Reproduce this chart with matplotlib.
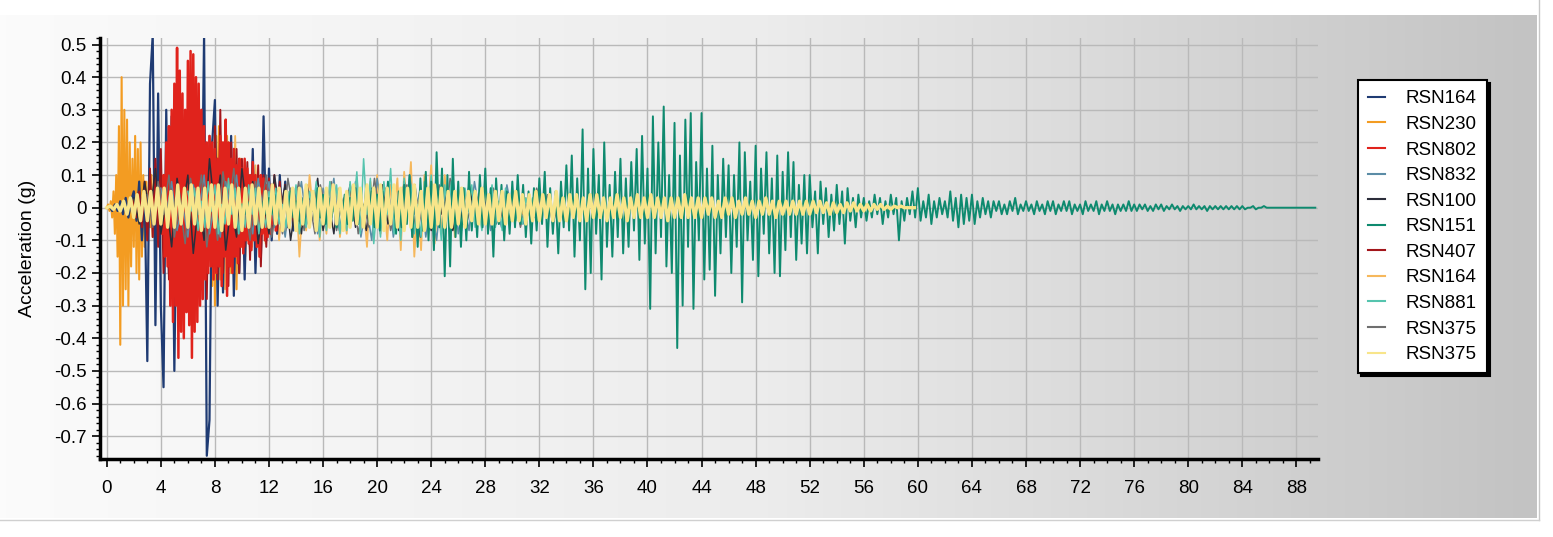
import numpy as np
import matplotlib.pyplot as plt
from matplotlib.colors import LinearSegmentedColormap
from matplotlib.lines import Line2D
from matplotlib.ticker import MultipleLocator, FuncFormatter

plt.rcParams['font.family'] = ['Liberation Sans', 'DejaVu Sans']

# legend order
names = ['RSN164', 'RSN230', 'RSN802', 'RSN832', 'RSN100', 'RSN151',
         'RSN407', 'RSN164', 'RSN881', 'RSN375', 'RSN375']
colors = ['#1f3b73', '#f39c22', '#e0231c', '#5b8ca6', '#2b2d3a', '#0e8a6f',
          '#a3161b', '#f6b85c', '#55c4ae', '#6f6f6f', '#f8e58a']

# each record: start time (s), time step (s), acceleration values (g)
rsn164_t0, rsn164_dt = 0.0, 0.2
rsn164 = [0, 0.005, -0.01, 0.01, -0.01, 0.02, -0.02, 0.03, -0.03, 0.02,
          0.05, -0.04, 0.08, -0.1, 0.06, -0.47, 0.38, 0.53, -0.36, 0.35,
          -0.3, -0.55, 0.3, -0.2, 0.28, -0.5, 0.12, -0.3, 0.22, -0.1,
          0.2, -0.28, 0.1, -0.22, 0.25, -0.15, 0.53, -0.76, -0.65, 0.2,
          0.33, -0.3, 0.12, -0.26, 0.25, -0.1, 0.22, -0.27, 0.08, -0.2,
          0.14, -0.22, 0.1, -0.12, 0.18, -0.2, 0.07, -0.15, 0.28, -0.1,
          0.12, -0.1, 0.05, -0.08, 0.1, -0.05, 0.08, -0.06, 0.05, -0.07,
          0.06, -0.05, 0.03, -0.06, 0.05, -0.04, 0.03, -0.04, 0.02, -0.02,
          0.03, -0.04, 0.02, -0.03, 0.04, -0.03, 0.02, -0.02, 0.03, -0.02,
          0.02, -0.03, 0.02, -0.02, 0.01, -0.02, 0.02, -0.01, 0.01, 0]

rsn230_t0, rsn230_dt = 0.0, 0.1
rsn230 = [0, 0.01, -0.01, 0.02, -0.03, 0.05, -0.08, 0.1, -0.15, 0.25,
          -0.42, 0.4, -0.3, 0.3, -0.25, 0.27, -0.3, 0.2, -0.18, 0.15,
          -0.12, 0.22, -0.2, 0.18, -0.22, 0.2, -0.15, 0.1, -0.12, 0.08,
          -0.1, 0.08, -0.06, 0.1, -0.09, 0.07, -0.1, 0.06, -0.08, 0.05,
          -0.07, 0.09, -0.06, 0.08, -0.1, 0.07, -0.05, 0.06, -0.09, 0.08,
          -0.06, 0.1, -0.08, 0.07, -0.11, 0.09, -0.07, 0.06, -0.1, 0.12,
          -0.09, 0.1, -0.12, 0.08, -0.14, 0.1, -0.08, 0.12, -0.15, 0.1,
          -0.12, 0.15, -0.18, 0.12, -0.2, 0.18, -0.15, 0.2, -0.24, 0.16,
          -0.3, 0.22, -0.18, 0.25, -0.22, 0.2, -0.24, 0.18, -0.2, 0.22,
          -0.18, 0.15, -0.2, 0.12, -0.16, 0.14, -0.25, 0.1, -0.12, 0.15,
          -0.12, 0.1, -0.13, 0.08, -0.1, 0.09, -0.12, 0.07, -0.09, 0.06,
          -0.08, 0.07, -0.06, 0.08, -0.05, 0.06, -0.07, 0.05, -0.04, 0.03]

rsn802_t0, rsn802_dt = 4.0, 0.1
rsn802 = [0.05, -0.08, 0.1, -0.15, 0.2, -0.18, 0.25, -0.3, 0.3, -0.35,
          0.38, -0.3, 0.49, -0.46, 0.42, -0.38, 0.35, -0.4, 0.3, -0.32,
          0.45, -0.36, 0.48, -0.46, 0.47, -0.38, 0.4, -0.35, 0.38, -0.3,
          0.3, -0.28, 0.25, -0.22, 0.2, -0.2, 0.22, -0.18, 0.2, -0.22,
          0.18, -0.2, 0.15, -0.18, 0.22, -0.24, 0.2, -0.15, 0.27, -0.27,
          0.2, -0.18, 0.15, -0.2, 0.18, -0.15, 0.13, -0.17, 0.15, -0.12,
          0.12, -0.14, 0.15, -0.1, 0.12, -0.11, 0.1, -0.13, 0.14, -0.1,
          0.1, -0.12, 0.08, -0.15, 0.1, -0.08, 0.09, -0.1, 0.07, -0.09,
          0.06, -0.08, 0.07, -0.05, 0.06, -0.07, 0.05, -0.04, 0.04, -0.03]

rsn832_t0, rsn832_dt = 4.0, 0.4
rsn832 = [0.06, -0.02, 0.08, -0.07, 0.01, -0.09, 0.07, -0.02, 0.1, -0.08,
          0.02, -0.09, 0.08, -0.01, 0.1, -0.07, 0.02, -0.08, 0.09, -0.02,
          0.08, -0.06, 0.01, -0.09, 0.06, -0.02, 0.08, -0.05, 0.02, -0.08,
          0.06, -0.01, 0.09, -0.07, 0.02, -0.06, 0.08, -0.09, 0.01, -0.1,
          0.09, -0.02, 0.07, -0.09, 0.01, -0.07, 0.1, -0.02, 0.06, -0.09,
          0.02, -0.1, 0.07, -0.01, 0.09, -0.08, 0.02, -0.07, 0.08, -0.02,
          0.06, -0.07, 0.01, -0.06, 0.07, -0.02, 0.04, -0.05, 0.01, -0.03]

rsn100_t0, rsn100_dt = 2.0, 0.4
rsn100 = [0.03, -0.05, 0.08, -0.02, 0.12, -0.08, 0.02, -0.12, 0.09, -0.01,
          0.1, -0.14, 0.02, -0.1, 0.15, -0.02, 0.1, -0.13, 0.01, -0.09,
          0.12, -0.02, 0.08, -0.11, 0.02, -0.08, 0.1, -0.01, 0.07, -0.1,
          0.02, -0.08, 0.07, -0.01, 0.09, -0.07, 0.02, -0.08, 0.06, -0.02,
          0.07, -0.06, 0.01, -0.07, 0.06, -0.02, 0.07, -0.05, 0.01, -0.07,
          0.08, -0.02, 0.07, -0.09, 0.01, -0.07, 0.08, -0.02, 0.05, -0.07,
          0.01, -0.05, 0.07, -0.02, 0.05, -0.04, 0.01, -0.05, 0.03, -0.02]

rsn151_t0, rsn151_dt = 10.0, 0.2
rsn151 = [0.01, -0.02, 0.02, -0.01, 0.03, -0.02, 0.01, -0.03, 0.02, -0.02,
          0.03, -0.02, 0.04, -0.03, 0.02, -0.04, 0.03, -0.02, 0.05, -0.03,
          0.02, -0.04, 0.03, -0.05, 0.04, -0.02, 0.03, -0.04, 0.06, -0.03,
          0.04, -0.05, 0.03, -0.04, 0.02, -0.06, 0.05, -0.03, 0.04, -0.05,
          0.03, -0.04, 0.06, -0.05, 0.04, -0.03, 0.07, -0.04, 0.05, -0.06,
          0.04, -0.07, 0.05, -0.04, 0.08, -0.05, 0.06, -0.08, 0.05, -0.06,
          0.07, -0.05, 0.1, -0.09, 0.06, -0.12, 0.09, -0.07, 0.11, -0.1,
          0.08, -0.13, 0.17, -0.06, 0.12, -0.21, 0.1, -0.18, 0.15, -0.09,
          0.08, -0.12, 0.06, -0.1, 0.11, -0.07, 0.05, -0.09, 0.1, -0.06,
          0.12, -0.08, 0.06, -0.15, 0.09, -0.05, 0.07, -0.1, 0.05, -0.08,
          0.08, -0.06, 0.1, -0.05, 0.07, -0.09, 0.05, -0.11, 0.06, -0.07,
          0.09, -0.05, 0.11, -0.12, 0.06, -0.08, 0.05, -0.14, 0.08, -0.06,
          0.13, -0.07, 0.16, -0.15, 0.09, -0.1, 0.24, -0.25, 0.12, -0.2,
          0.18, -0.08, 0.1, -0.22, 0.2, -0.12, 0.07, -0.15, 0.11, -0.09,
          0.15, -0.14, 0.09, -0.12, 0.14, -0.07, 0.18, -0.16, 0.22, -0.11,
          0.12, -0.31, 0.28, -0.14, 0.2, -0.09, 0.31, -0.18, 0.1, -0.2,
          0.26, -0.43, 0.16, -0.3, 0.27, -0.12, 0.29, -0.31, 0.14, -0.1,
          0.29, -0.22, 0.12, -0.19, 0.19, -0.27, 0.1, -0.14, 0.15, -0.09,
          0.13, -0.2, 0.1, -0.12, 0.2, -0.29, 0.17, -0.1, 0.08, -0.16,
          0.19, -0.21, 0.12, -0.08, 0.17, -0.14, 0.09, -0.2, 0.16, -0.21,
          0.11, -0.13, 0.17, -0.09, 0.14, -0.16, 0.07, -0.11, 0.1, -0.14,
          0.1, -0.06, 0.05, -0.14, 0.08, -0.05, 0.06, -0.09, 0.04, -0.07,
          0.07, -0.05, 0.05, -0.11, 0.06, -0.04, 0.03, -0.06, 0.04, -0.03,
          0.03, -0.04, 0.02, -0.03, 0.04, -0.02, 0.03, -0.05, 0.02, -0.03,
          0.04, -0.02, 0.03, -0.1, 0.02, -0.04, 0.03, -0.02, 0.05, -0.03,
          0.06, -0.04, 0.02, -0.03, 0.04, -0.05, 0.02, -0.03, 0.03, -0.02,
          0.02, -0.03, 0.05, -0.04, 0.03, -0.06, 0.04, -0.05, 0.03, -0.04,
          0.04, -0.05, 0.02, -0.03, 0.03, -0.02, 0.02, -0.03, 0.02, -0.01,
          0.02, -0.02, 0.01, -0.02, 0.02, -0.01, 0.03, -0.02, 0.01, -0.01,
          0.02, -0.01, 0.01, -0.02, 0.02, -0.01, 0.01, -0.02, 0.02, -0.01,
          0.02, -0.02, 0.01, -0.01, 0.02, -0.01, 0.02, -0.02, 0.01, -0.01,
          0.01, -0.02, 0.02, -0.01, 0.01, -0.01, 0.02, -0.02, 0.01, -0.01,
          0.02, -0.01, 0.01, -0.02, 0.01, -0.01, 0.01, -0.01, 0.02, -0.01,
          0.01, -0.01, 0.01, -0.005, 0.01, -0.01, 0.005, -0.01, 0.01, -0.005,
          0.01, -0.01, 0.005, -0.005, 0.01, -0.005, 0.005, -0.01, 0.005, -0.005,
          0.005, -0.005, 0.01, -0.005, 0.005, -0.005, 0.005, -0.01, 0.005, -0.005,
          0.005, -0.005, 0.005, -0.005, 0.005, -0.005, 0.005, -0.005, 0.005, -0.005,
          0.005, -0.005, 0, 0, 0.005, -0.005, 0, 0, 0.005, 0,
          0, 0, 0, 0, 0, 0, 0, 0, 0, 0,
          0, 0, 0, 0, 0, 0, 0, 0]

rsn407_t0, rsn407_dt = 2.0, 0.2
rsn407 = [0.02, -0.03, 0.05, -0.06, 0.08, -0.1, 0.12, -0.09, 0.15, -0.12,
          0.18, -0.2, 0.15, -0.22, 0.2, -0.18, 0.25, -0.2, 0.22, -0.25,
          0.2, -0.22, 0.24, -0.2, 0.18, -0.25, 0.2, -0.28, 0.22, -0.18,
          0.25, -0.22, 0.3, -0.2, 0.18, -0.24, 0.2, -0.15, 0.18, -0.2,
          0.15, -0.12, 0.14, -0.16, 0.12, -0.1, 0.13, -0.18, 0.1, -0.12,
          0.09, -0.08, 0.1, -0.07, 0.08, -0.06, 0.07, -0.05, 0.05, -0.04]

rsn164b_t0, rsn164b_dt = 8.0, 0.25
rsn164b = [0.15, -0.2, 0.18, -0.25, 0.2, -0.16, 0.22, -0.18,
           0.12, -0.15, 0.1, -0.12, 0.13, -0.1, 0.08, -0.11,
           0.07, -0.02, 0.06, -0.1, 0.02, -0.07, 0.05, -0.01,
           0.06, -0.15, 0.02, -0.07, 0.1, -0.01, 0.06, -0.1,
           0.02, -0.08, 0.07, -0.01, 0.06, -0.09, 0.01, -0.08,
           0.07, -0.02, 0.09, -0.07, 0.01, -0.12, 0.08, -0.02,
           0.1, -0.08, 0.02, -0.1, 0.07, -0.01, 0.09, -0.13,
           0.11, -0.02, 0.14, -0.15, 0.02, -0.13, 0.1, -0.01,
           0.13, -0.11, 0.02, -0.08, 0.1, -0.01, 0.08, -0.09,
           0.02, -0.06, 0.05, -0.01, 0.06, -0.05, 0.01, -0.06,
           0.05, -0.01, 0.06, -0.05, 0.01, -0.03, 0.05, -0.01,
           0.03, -0.04, 0.01, -0.02, 0.03, -0.01, 0.02, -0.02]

rsn881_t0, rsn881_dt = 6.0, 0.25
rsn881 = [0.05, -0.01, 0.06, -0.07, 0.02, -0.06, 0.08, -0.01,
          0.07, -0.08, 0.01, -0.05, 0.09, -0.02, 0.06, -0.08,
          0.01, -0.06, 0.07, -0.02, 0.06, -0.08, 0.01, -0.06,
          0.05, -0.02, 0.06, -0.05, 0.01, -0.06, 0.05, -0.02,
          0.07, -0.08, 0.02, -0.06, 0.05, -0.01, 0.08, -0.09,
          0.02, -0.07, 0.08, -0.01, 0.07, -0.08, 0.02, -0.07,
          0.08, -0.01, 0.11, -0.08, 0.15, -0.02, 0.09, -0.11,
          0.01, -0.09, 0.08, -0.02, 0.12, -0.08, 0.01, -0.1,
          0.09, -0.02, 0.07, -0.08, 0.01, -0.09, 0.08, -0.02,
          0.1, -0.08, 0.02, -0.1, 0.07, -0.01, 0.08, -0.06,
          0.02, -0.07, 0.06, -0.01, 0.07, -0.06, 0.02, -0.07,
          0.06, -0.01, 0.07, -0.06, 0.02, -0.07, 0.06, -0.01,
          0.05, -0.04, 0.01, -0.05, 0.03, -0.01, 0.03, -0.02]

rsn375_t0, rsn375_dt = 3.0, 0.4
rsn375 = [0.04, -0.06, 0.08, -0.02, 0.1, -0.09, 0.01, -0.11, 0.09, -0.02,
          0.1, -0.12, 0.02, -0.1, 0.11, -0.01, 0.12, -0.08, 0.02, -0.1,
          0.08, -0.01, 0.1, -0.09, 0.02, -0.08, 0.09, -0.01, 0.08, -0.07,
          0.02, -0.08, 0.07, -0.01, 0.08, -0.07, 0.02, -0.05, 0.07, -0.08,
          0.01, -0.06, 0.09, -0.02, 0.06, -0.07, 0.01, -0.06, 0.07, -0.09,
          0.02, -0.07, 0.06, -0.01, 0.07, -0.06, 0.09, -0.02, 0.06, -0.05,
          0.01, -0.06, 0.05, -0.02, 0.06, -0.05, 0.01, -0.04, 0.05, -0.06,
          0.01, -0.04, 0.06, -0.01, 0.04, -0.05, 0.01, -0.04, 0.02, -0.02]

rsn375b_t0, rsn375b_dt = 0.0, 0.25
rsn375b = [0, 0.005, -0.005, 0.01, -0.01, 0.02, -0.02, 0.03,
           -0.03, 0.04, -0.04, 0.05, -0.04, 0.05, -0.05, 0.06,
           -0.05, 0.06, -0.06, 0.05, -0.06, 0.07, -0.05, 0.06,
           -0.06, 0.07, -0.05, 0.06, -0.07, 0.06, -0.06, 0.07,
           -0.06, 0.07, -0.07, 0.06, -0.05, 0.07, -0.06, 0.06,
           -0.07, 0.06, -0.06, 0.07, -0.05, 0.06, -0.06, 0.05,
           -0.06, 0.07, -0.05, 0.06, -0.07, 0.05, -0.06, 0.06,
           -0.07, 0.06, -0.05, 0.07, -0.06, 0.05, -0.07, 0.06,
           -0.05, 0.06, -0.06, 0.07, -0.05, 0.06, -0.07, 0.05,
           -0.06, 0.07, -0.05, 0.06, -0.06, 0.07, -0.05, 0.06,
           -0.06, 0.07, -0.07, 0.06, -0.05, 0.07, -0.06, 0.06,
           -0.07, 0.06, -0.06, 0.07, -0.06, 0.05, -0.07, 0.06,
           -0.06, 0.07, -0.05, 0.06, -0.06, 0.05, -0.06, 0.05,
           -0.05, 0.06, -0.06, 0.05, -0.04, 0.05, -0.05, 0.06,
           -0.05, 0.04, -0.05, 0.05, -0.04, 0.05, -0.05, 0.04,
           -0.04, 0.05, -0.04, 0.04, -0.05, 0.04, -0.04, 0.05,
           -0.04, 0.04, -0.03, 0.04, -0.04, 0.05, -0.04, 0.03,
           -0.04, 0.04, -0.03, 0.04, -0.04, 0.03, -0.04, 0.04,
           -0.03, 0.04, -0.03, 0.03, -0.04, 0.03, -0.03, 0.04,
           -0.03, 0.03, -0.04, 0.03, -0.03, 0.04, -0.03, 0.03,
           -0.03, 0.04, -0.03, 0.03, -0.03, 0.03, -0.04, 0.03,
           -0.03, 0.03, -0.03, 0.04, -0.03, 0.03, -0.03, 0.03,
           -0.03, 0.03, -0.02, 0.03, -0.03, 0.02, -0.03, 0.03,
           -0.02, 0.03, -0.03, 0.02, -0.02, 0.03, -0.02, 0.02,
           -0.03, 0.02, -0.02, 0.03, -0.02, 0.02, -0.03, 0.02,
           -0.02, 0.02, -0.02, 0.02, -0.02, 0.02, -0.02, 0.02,
           -0.02, 0.02, -0.015, 0.02, -0.015, 0.015, -0.02, 0.015,
           -0.015, 0.01, -0.015, 0.015, -0.01, 0.015, -0.01, 0.01,
           -0.01, 0.01, -0.01, 0.01, -0.005, 0.01, -0.005, 0.005,
           -0.005, 0.005, 0, 0.005, 0, 0, 0, 0]

records = [(rsn164_t0, rsn164_dt, rsn164), (rsn230_t0, rsn230_dt, rsn230),
           (rsn802_t0, rsn802_dt, rsn802), (rsn832_t0, rsn832_dt, rsn832),
           (rsn100_t0, rsn100_dt, rsn100), (rsn151_t0, rsn151_dt, rsn151),
           (rsn407_t0, rsn407_dt, rsn407), (rsn164b_t0, rsn164b_dt, rsn164b),
           (rsn881_t0, rsn881_dt, rsn881), (rsn375_t0, rsn375_dt, rsn375),
           (rsn375b_t0, rsn375b_dt, rsn375b)]

# order in which the records are painted (later = on top)
draw_order = [1, 7, 0, 6, 2, 3, 4, 9, 8, 5, 10]
widths = [1.6, 1.5, 1.8, 1.1, 1.1, 1.4, 1.4, 1.3, 1.1, 1.1, 2.4]

fig = plt.figure(figsize=(15.53, 5.37), dpi=100)
fig.patch.set_facecolor('white')

# gray gradient panel behind everything
bg = fig.add_axes([0, 0, 1, 1], zorder=-5)
bg.set_xlim(0, 1553)
bg.set_ylim(537, 0)
bg.axis('off')
grad = np.linspace(0, 1, 512).reshape(1, -1)
cmap = LinearSegmentedColormap.from_list('panel', ['#fbfbfb', '#ececec', '#c3c3c3'])
bg.imshow(grad, cmap=cmap, aspect='auto', extent=(0, 1537, 518, 15))
bg.plot([1539, 1539], [0, 520], color='#c8c8c8', lw=1)
bg.plot([0, 1539], [520, 520], color='#d0d0d0', lw=1)

ax = fig.add_axes([100 / 1553, 1 - 459 / 537, 1218 / 1553, 421 / 537])
ax.set_facecolor('none')

for i in draw_order:
    t0, dt, vals = records[i]
    t = t0 + dt * np.arange(len(vals))
    ax.plot(t, vals, color=colors[i], lw=widths[i], solid_joinstyle='round')

ax.set_xlim(-0.5, 89.6)
ax.set_ylim(-0.77, 0.52)
ax.xaxis.set_major_locator(MultipleLocator(4))
ax.xaxis.set_minor_locator(MultipleLocator(1))
ax.set_yticks(np.arange(-0.7, 0.51, 0.1))
ax.yaxis.set_minor_locator(MultipleLocator(0.02))


def fmt(v, pos):
    v = round(v, 2)
    if v == 0:
        return '0'
    return '{:g}'.format(v)


ax.yaxis.set_major_formatter(FuncFormatter(fmt))
ax.grid(True, which='major', color='#b9b9b9', lw=1)
ax.set_axisbelow(True)
for s in ['top', 'right']:
    ax.spines[s].set_visible(False)
for s in ['left', 'bottom']:
    ax.spines[s].set_linewidth(2.5)
ax.tick_params(axis='both', which='major', length=6, width=1.2, labelsize=13.5, direction='out')
ax.tick_params(axis='x', which='major', pad=9)
ax.tick_params(axis='both', which='minor', length=3, width=1, direction='out')
ax.set_ylabel('Acceleration (g)', fontsize=14, labelpad=13)

handles = [Line2D([], [], color=c, lw=1.5) for c in colors]
leg = fig.legend(handles, names, loc='upper left', bbox_to_anchor=(1358 / 1553, 1 - 80 / 537),
                 fontsize=13.5, frameon=True, fancybox=False,
                 shadow={'color': 'black', 'alpha': 1}, edgecolor='black',
                 handlelength=0.9, handletextpad=1.1, labelspacing=0.45,
                 borderpad=0.55, borderaxespad=0)
leg.get_frame().set_linewidth(1.5)
leg.get_frame().set_alpha(1)

fig.savefig('out.png', dpi=100)
